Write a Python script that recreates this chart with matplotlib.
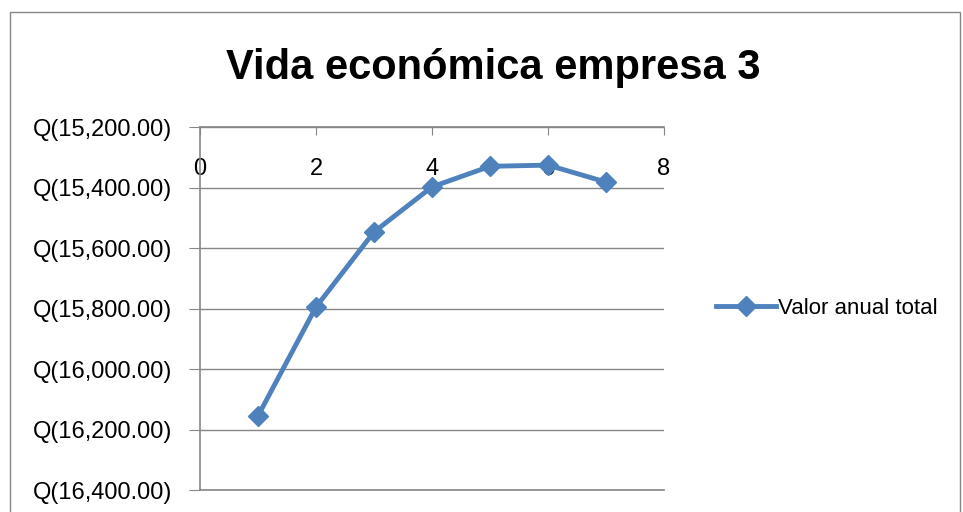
import matplotlib.pyplot as plt
from matplotlib.ticker import FuncFormatter

years = [1, 2, 3, 4, 5, 6, 7]
valor_anual = [-16155, -15795, -15547, -15398, -15330, -15326, -15382]
y_ticks = [-15200, -15400, -15600, -15800, -16000, -16200, -16400]
x_ticks = [0, 2, 4, 6, 8]

BLUE = '#4F81BD'
GREY = '#868686'
FONT = 'Liberation Sans'


def quetzal(v, _pos):
    s = f'{abs(v):,.2f}'
    return f'Q({s})' if v < 0 else f'Q{s}'


fig = plt.figure(figsize=(9.63, 5.12), dpi=100)
# thin grey frame around the chart area, as in the spreadsheet export
fig.patches.append(plt.Rectangle((10 / 963, -0.1), 950 / 963, 1 - 12 / 512 + 0.1,
                                 transform=fig.transFigure, fill=False,
                                 edgecolor=GREY, linewidth=1))

ax = fig.add_axes([200 / 963, 1 - 490 / 512, 464 / 963, 363 / 512])
ax.plot(years, valor_anual, color=BLUE, linewidth=3.5, marker='D',
        markersize=10, label='Valor anual total')

ax.set_xlim(0, 8)
ax.set_ylim(-16400, -15200)
ax.set_xticks(x_ticks)
ax.set_yticks(y_ticks)
ax.yaxis.set_major_formatter(FuncFormatter(quetzal))
ax.grid(axis='y', color=GREY, linewidth=1)
ax.set_axisbelow(True)

ax.spines['right'].set_visible(False)
for side in ('left', 'top', 'bottom'):
    ax.spines[side].set_color(GREY)
    ax.spines[side].set_linewidth(1.2)

ax.tick_params(axis='x', top=True, bottom=False, labeltop=True, labelbottom=False,
               direction='in', length=6, color=GREY, pad=-38)
ax.tick_params(axis='y', direction='out', length=8, color=GREY, pad=12)
for lab in ax.get_xticklabels() + ax.get_yticklabels():
    lab.set_fontfamily(FONT)
    lab.set_fontsize(17)

fig.text(493 / 963, 1 - 68 / 512, 'Vida económica empresa 3', ha='center', va='center',
         fontsize=30, fontweight='bold', family=FONT)

fig.legend(loc='center left', bbox_to_anchor=(696 / 963, 1 - 308 / 512), frameon=False,
           prop={'family': FONT, 'size': 16}, handlelength=2.7, handletextpad=0.1)

fig.savefig('out.png', dpi=100)
